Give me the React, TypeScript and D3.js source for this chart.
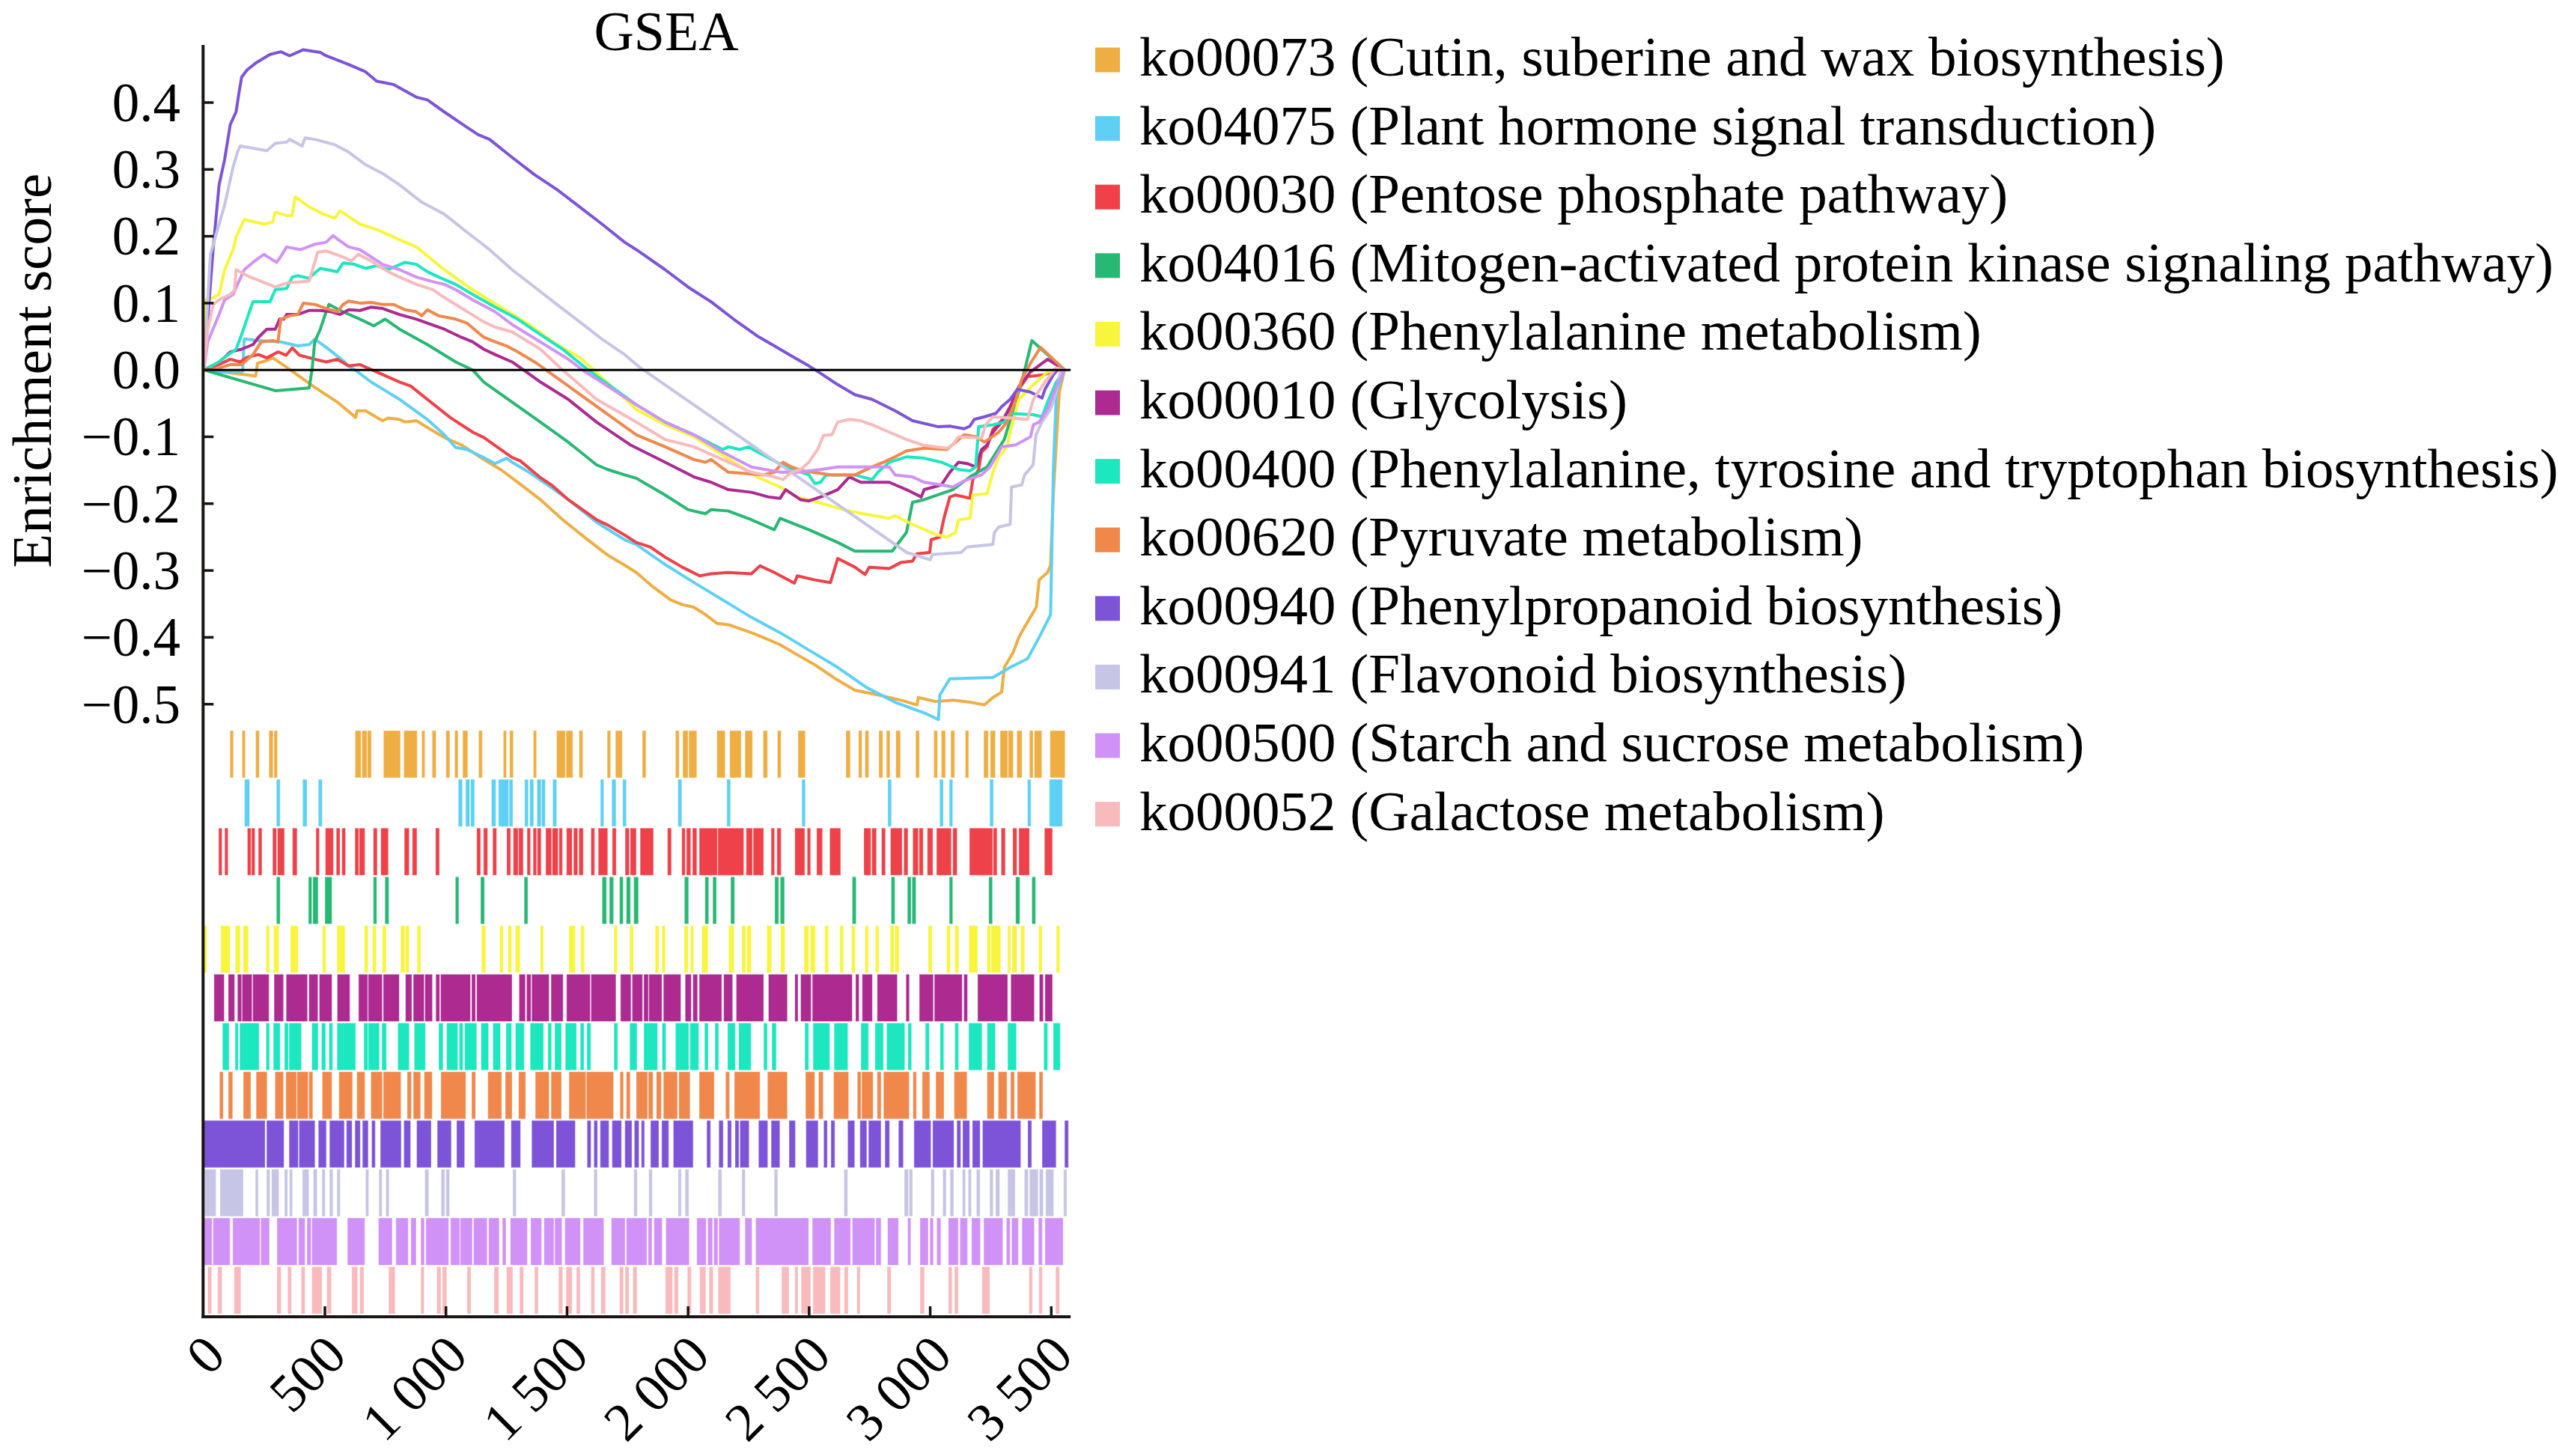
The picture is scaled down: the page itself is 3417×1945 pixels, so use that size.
import { line, scaleLinear, select } from 'd3'
import { useEffect, useRef } from 'react'

const WIDTH = 3417
const HEIGHT = 1945
const FONT = "'Liberation Serif', 'Times New Roman', serif"

const pathways = [
  'ko00073 (Cutin, suberine and wax biosynthesis)',
  'ko04075 (Plant hormone signal transduction)',
  'ko00030 (Pentose phosphate pathway)',
  'ko04016 (Mitogen-activated protein kinase signaling pathway)',
  'ko00360 (Phenylalanine metabolism)',
  'ko00010 (Glycolysis)',
  'ko00400 (Phenylalanine, tyrosine and tryptophan biosynthesis)',
  'ko00620 (Pyruvate metabolism)',
  'ko00940 (Phenylpropanoid biosynthesis)',
  'ko00941 (Flavonoid biosynthesis)',
  'ko00500 (Starch and sucrose metabolism)',
  'ko00052 (Galactose metabolism)',
]

const colors = [
  '#EFAE43', '#5DD0F4', '#EF4149', '#27B873', '#F8F53C', '#AD2A91',
  '#1CE7BF', '#F0884C', '#7D54D8', '#C6C5E5', '#D192F7', '#F8BABC',
]

// running enrichment score: [rank, score]
const es00073: [number, number][] = [
  [0, 0], [100, -0.004], [214, -0.009], [222, 0.01], [260, 0.014], [285, 0.018], [342, 0.004], [458, -0.026],
  [551, -0.048], [627, -0.071], [633, -0.061], [668, -0.061], [738, -0.076], [761, -0.072], [808, -0.074],
  [831, -0.078], [878, -0.076], [923, -0.086], [993, -0.101], [1063, -0.112], [1110, -0.123], [1156, -0.134],
  [1226, -0.149], [1296, -0.168], [1390, -0.194], [1482, -0.224], [1575, -0.251], [1668, -0.277], [1738, -0.292],
  [1786, -0.303], [1857, -0.325], [1928, -0.344], [1976, -0.351], [2024, -0.355], [2072, -0.366], [2119, -0.379],
  [2166, -0.381], [2261, -0.393], [2309, -0.4], [2380, -0.411], [2451, -0.426], [2523, -0.441], [2618, -0.464],
  [2689, -0.479], [2784, -0.486], [2879, -0.494], [2945, -0.501], [2951, -0.49], [3022, -0.496], [3093, -0.494],
  [3164, -0.497], [3224, -0.501], [3259, -0.49], [3295, -0.482], [3306, -0.445], [3342, -0.423], [3366, -0.4],
  [3389, -0.385], [3438, -0.355], [3450, -0.314], [3485, -0.303], [3497, -0.292], [3509, -0.183], [3533, -0.033],
  [3555, 0],
]
const es04075: [number, number][] = [
  [0, 0], [60, -0.003], [160, -0.002], [167, 0.046], [179, 0.046], [226, 0.044], [318, 0.042], [388, 0.036],
  [435, 0.038], [458, 0.046], [505, 0.034], [575, 0.014], [598, 0.006], [632, -0.002], [691, -0.018], [808, -0.044],
  [923, -0.074], [993, -0.097], [1040, -0.116], [1087, -0.119], [1156, -0.131], [1203, -0.14], [1250, -0.132],
  [1273, -0.138], [1343, -0.153], [1436, -0.176], [1505, -0.194], [1622, -0.228], [1738, -0.254], [1786, -0.261],
  [1905, -0.291], [2024, -0.318], [2143, -0.344], [2261, -0.37], [2380, -0.393], [2499, -0.419], [2618, -0.445],
  [2737, -0.475], [2855, -0.497], [2975, -0.513], [3034, -0.523], [3040, -0.486], [3081, -0.462], [3259, -0.46],
  [3330, -0.445], [3402, -0.432], [3450, -0.4], [3497, -0.366], [3503, -0.258], [3509, -0.145], [3521, -0.033],
  [3555, 0],
]
const es00030: [number, number][] = [
  [0, 0], [63, 0.008], [109, 0.016], [150, 0.012], [179, 0.019], [226, 0.023], [260, 0.018], [307, 0.027],
  [340, 0.022], [365, 0.033], [395, 0.022], [458, 0.016], [505, 0.012], [551, 0.016], [598, 0.006], [645, 0.008],
  [714, -0.003], [808, -0.018], [854, -0.024], [923, -0.044], [1017, -0.071], [1110, -0.093], [1156, -0.101],
  [1226, -0.119], [1273, -0.131], [1307, -0.136], [1390, -0.161], [1436, -0.172], [1505, -0.194], [1552, -0.206],
  [1622, -0.224], [1668, -0.232], [1738, -0.247], [1786, -0.258], [1845, -0.265], [1905, -0.28], [1976, -0.295],
  [2048, -0.308], [2095, -0.305], [2166, -0.303], [2261, -0.305], [2297, -0.293], [2356, -0.303], [2439, -0.319],
  [2451, -0.308], [2523, -0.314], [2588, -0.318], [2618, -0.282], [2689, -0.295], [2731, -0.306], [2748, -0.295],
  [2831, -0.297], [2879, -0.288], [2927, -0.286], [2945, -0.275], [2998, -0.273], [3004, -0.254], [3040, -0.25],
  [3058, -0.22], [3081, -0.19], [3105, -0.187], [3164, -0.192], [3176, -0.164], [3200, -0.149], [3212, -0.123],
  [3235, -0.115], [3259, -0.089], [3318, -0.067], [3366, -0.029], [3402, -0.01], [3474, -0.007], [3521, 0.002],
  [3555, 0],
]
const es04016: [number, number][] = [
  [0, 0], [295, -0.031], [435, -0.027], [447, 0.001], [458, 0.042], [481, 0.061], [505, 0.087], [517, 0.098],
  [575, 0.087], [645, 0.076], [702, 0.066], [749, 0.076], [808, 0.061], [923, 0.038], [1040, 0.012], [1110, 0],
  [1156, -0.018], [1273, -0.048], [1390, -0.078], [1505, -0.108], [1622, -0.142], [1668, -0.149], [1738, -0.157],
  [1786, -0.162], [1905, -0.187], [2000, -0.209], [2072, -0.215], [2095, -0.209], [2166, -0.211], [2261, -0.224],
  [2356, -0.239], [2380, -0.222], [2499, -0.239], [2618, -0.258], [2689, -0.271], [2843, -0.271], [2902, -0.243],
  [2927, -0.198], [2975, -0.194], [3093, -0.179], [3164, -0.16], [3235, -0.145], [3306, -0.104], [3378, -0.018],
  [3420, 0.044], [3555, 0],
]
const es00360: [number, number][] = [
  [0, 0], [8, 0.105], [39, 0.108], [63, 0.113], [86, 0.15], [121, 0.18], [133, 0.199], [167, 0.225], [249, 0.218],
  [284, 0.221], [295, 0.236], [342, 0.231], [365, 0.231], [377, 0.259], [435, 0.244], [494, 0.233], [540, 0.227],
  [563, 0.238], [645, 0.218], [714, 0.21], [808, 0.195], [878, 0.184], [993, 0.15], [1110, 0.12], [1226, 0.094],
  [1343, 0.068], [1458, 0.038], [1552, 0.019], [1598, 0.004], [1786, -0.059], [1905, -0.082], [2024, -0.1],
  [2285, -0.16], [2380, -0.175], [2451, -0.19], [2499, -0.194], [2642, -0.209], [2737, -0.216], [2831, -0.222],
  [2855, -0.218], [2927, -0.231], [3022, -0.246], [3069, -0.25], [3105, -0.243], [3117, -0.224], [3164, -0.222],
  [3176, -0.187], [3235, -0.185], [3259, -0.153], [3283, -0.13], [3318, -0.115], [3330, -0.093], [3366, -0.044],
  [3426, -0.022], [3485, -0.003], [3555, 0],
]
const es00010: [number, number][] = [
  [0, 0], [63, 0.012], [86, 0.019], [109, 0.027], [156, 0.031], [203, 0.038], [226, 0.049], [260, 0.061],
  [295, 0.061], [313, 0.076], [330, 0.076], [342, 0.083], [388, 0.083], [435, 0.089], [481, 0.089], [528, 0.087],
  [563, 0.083], [598, 0.09], [645, 0.089], [691, 0.094], [738, 0.092], [808, 0.083], [878, 0.076], [923, 0.07],
  [993, 0.061], [1063, 0.049], [1110, 0.042], [1156, 0.031], [1203, 0.023], [1273, 0.012], [1320, 0],
  [1390, -0.018], [1505, -0.044], [1622, -0.078], [1761, -0.112], [1905, -0.138], [2024, -0.16], [2095, -0.168],
  [2166, -0.179], [2261, -0.183], [2332, -0.19], [2380, -0.192], [2403, -0.179], [2464, -0.194], [2499, -0.196],
  [2547, -0.19], [2618, -0.179], [2666, -0.16], [2713, -0.168], [2772, -0.168], [2831, -0.168], [2902, -0.179],
  [2963, -0.19], [2975, -0.179], [3046, -0.172], [3081, -0.153], [3117, -0.138], [3152, -0.14], [3188, -0.145],
  [3212, -0.119], [3235, -0.112], [3259, -0.093], [3295, -0.078], [3330, -0.055], [3366, -0.025], [3414, -0.003],
  [3485, 0.016], [3555, 0],
]
const es00400: [number, number][] = [
  [0, 0], [63, 0.012], [86, 0.019], [133, 0.031], [156, 0.053], [191, 0.09], [203, 0.102], [273, 0.102],
  [295, 0.12], [342, 0.122], [365, 0.139], [388, 0.141], [435, 0.137], [458, 0.145], [481, 0.152], [551, 0.147],
  [575, 0.16], [621, 0.158], [668, 0.152], [714, 0.156], [761, 0.15], [831, 0.161], [878, 0.158], [923, 0.147],
  [970, 0.139], [1040, 0.128], [1110, 0.113], [1203, 0.094], [1296, 0.076], [1390, 0.053], [1482, 0.031],
  [1587, 0], [1786, -0.052], [1905, -0.078], [2024, -0.097], [2143, -0.119], [2166, -0.115], [2214, -0.119],
  [2249, -0.115], [2309, -0.127], [2403, -0.145], [2499, -0.157], [2523, -0.17], [2547, -0.168], [2570, -0.157],
  [2689, -0.157], [2760, -0.164], [2784, -0.153], [2831, -0.138], [2902, -0.13], [2975, -0.132], [3046, -0.138],
  [3117, -0.149], [3164, -0.151], [3188, -0.145], [3200, -0.085], [3259, -0.082], [3306, -0.078], [3330, -0.065],
  [3426, -0.067], [3462, -0.07], [3485, -0.048], [3521, -0.018], [3555, 0],
]
const es00620: [number, number][] = [
  [0, 0], [56, 0.002], [109, 0.008], [156, 0.008], [203, 0.023], [237, 0.042], [284, 0.044], [306, 0.042],
  [318, 0.076], [354, 0.081], [388, 0.083], [411, 0.1], [458, 0.098], [505, 0.092], [551, 0.087], [575, 0.098],
  [598, 0.103], [645, 0.1], [691, 0.101], [738, 0.098], [784, 0.098], [831, 0.09], [878, 0.087], [900, 0.081],
  [923, 0.09], [970, 0.081], [1040, 0.076], [1087, 0.07], [1156, 0.049], [1203, 0.042], [1250, 0.036],
  [1296, 0.027], [1366, 0.012], [1413, 0], [1786, -0.097], [1905, -0.115], [2024, -0.134], [2072, -0.138],
  [2095, -0.134], [2166, -0.153], [2309, -0.157], [2356, -0.153], [2392, -0.138], [2427, -0.145], [2474, -0.151],
  [2594, -0.157], [2689, -0.157], [2760, -0.145], [2808, -0.138], [2855, -0.13], [2902, -0.121], [2975, -0.117],
  [3069, -0.119], [3105, -0.108], [3140, -0.097], [3188, -0.1], [3224, -0.108], [3283, -0.093], [3318, -0.078],
  [3354, -0.044], [3378, -0.014], [3414, 0.01], [3456, 0.034], [3555, 0],
]
const es00940: [number, number][] = [
  [0, 0], [39, 0.184], [63, 0.277], [86, 0.315], [109, 0.367], [133, 0.386], [144, 0.412], [156, 0.438],
  [179, 0.449], [214, 0.459], [273, 0.472], [318, 0.476], [354, 0.47], [411, 0.479], [481, 0.475], [505, 0.47],
  [598, 0.457], [668, 0.446], [714, 0.432], [784, 0.427], [878, 0.408], [923, 0.404], [993, 0.386], [1087, 0.363],
  [1133, 0.352], [1180, 0.345], [1273, 0.318], [1366, 0.292], [1458, 0.27], [1552, 0.244], [1645, 0.218],
  [1738, 0.191], [1786, 0.18], [1905, 0.15], [2000, 0.124], [2095, 0.102], [2190, 0.0755], [2285, 0.051],
  [2356, 0.036], [2427, 0.021], [2499, 0.006], [2547, -0.005], [2618, -0.022], [2689, -0.037], [2760, -0.044],
  [2855, -0.061], [2927, -0.076], [3034, -0.085], [3081, -0.084], [3140, -0.088], [3164, -0.084], [3182, -0.074],
  [3224, -0.07], [3271, -0.065], [3295, -0.055], [3330, -0.044], [3360, -0.029], [3414, -0.033], [3462, -0.042],
  [3474, -0.029], [3509, -0.007], [3533, 0.003], [3555, 0],
]
const es00941: [number, number][] = [
  [0, 0], [27, 0.173], [86, 0.247], [121, 0.304], [139, 0.326], [150, 0.335], [260, 0.328], [295, 0.339],
  [342, 0.341], [354, 0.345], [406, 0.335], [418, 0.347], [458, 0.345], [540, 0.337], [598, 0.326], [668, 0.307],
  [738, 0.294], [808, 0.277], [900, 0.251], [993, 0.233], [1087, 0.206], [1180, 0.18], [1273, 0.15], [1366, 0.124],
  [1458, 0.098], [1552, 0.072], [1645, 0.046], [1738, 0.023], [1800, 0.004], [2903, -0.273], [3000, -0.284],
  [3010, -0.276], [3128, -0.273], [3152, -0.265], [3259, -0.261], [3265, -0.243], [3283, -0.235], [3330, -0.231],
  [3336, -0.175], [3378, -0.172], [3390, -0.157], [3425, -0.142], [3437, -0.097], [3461, -0.078], [3497, -0.059],
  [3520, -0.033], [3538, -0.003], [3555, 0],
]
const es00500: [number, number][] = [
  [0, 0], [16, 0.042], [63, 0.083], [86, 0.105], [121, 0.113], [144, 0.132], [167, 0.15], [203, 0.161],
  [249, 0.173], [260, 0.17], [301, 0.161], [318, 0.17], [342, 0.184], [400, 0.18], [458, 0.188], [505, 0.191],
  [534, 0.201], [551, 0.196], [598, 0.184], [645, 0.18], [691, 0.169], [738, 0.158], [808, 0.15], [878, 0.139],
  [947, 0.132], [993, 0.128], [1040, 0.12], [1110, 0.105], [1203, 0.087], [1273, 0.068], [1390, 0.042],
  [1505, 0.016], [1564, 0], [1786, -0.052], [1905, -0.078], [2024, -0.097], [2143, -0.123], [2261, -0.145],
  [2380, -0.153], [2451, -0.153], [2547, -0.149], [2618, -0.145], [2689, -0.145], [2760, -0.145], [2831, -0.145],
  [2855, -0.157], [2927, -0.16], [2975, -0.168], [3046, -0.172], [3093, -0.175], [3140, -0.166], [3212, -0.157],
  [3247, -0.145], [3295, -0.115], [3354, -0.112], [3414, -0.1], [3426, -0.082], [3450, -0.078], [3485, -0.059],
  [3521, -0.025], [3555, 0],
]
const es00052: [number, number][] = [
  [0, 0], [16, 0.061], [39, 0.098], [63, 0.105], [109, 0.113], [127, 0.12], [133, 0.15], [179, 0.141],
  [295, 0.124], [342, 0.13], [435, 0.133], [458, 0.161], [470, 0.176], [505, 0.178], [575, 0.169], [609, 0.163],
  [638, 0.173], [691, 0.163], [761, 0.147], [808, 0.139], [878, 0.128], [947, 0.12], [982, 0.111], [1040, 0.098],
  [1156, 0.072], [1203, 0.064], [1273, 0.057], [1390, 0.031], [1482, 0], [1622, -0.044], [1786, -0.078],
  [1905, -0.104], [2024, -0.115], [2143, -0.134], [2261, -0.153], [2356, -0.16], [2392, -0.164], [2427, -0.153],
  [2464, -0.149], [2499, -0.138], [2535, -0.119], [2559, -0.098], [2594, -0.097], [2618, -0.078], [2666, -0.074],
  [2713, -0.076], [2760, -0.082], [2831, -0.093], [2902, -0.104], [2975, -0.113], [3069, -0.117], [3093, -0.112],
  [3117, -0.1], [3212, -0.102], [3229, -0.082], [3259, -0.07], [3342, -0.072], [3402, -0.074], [3426, -0.044],
  [3474, -0.018], [3521, 0.003], [3555, 0],
]

// gene hits in the ranked list: [from rank, to rank]
const hits00073: [number, number][] = [
  [108, 122], [158, 171], [214, 229], [269, 286], [290, 304], [625, 649], [653, 673], [675, 692], [742, 812],
  [826, 881], [900, 913], [943, 959], [1000, 1016], [1036, 1050], [1069, 1090], [1135, 1150], [1237, 1250],
  [1263, 1278], [1361, 1374], [1457, 1493], [1496, 1524], [1550, 1565], [1666, 1680], [1700, 1728], [1811, 1826],
  [1948, 1963], [1978, 2000], [2003, 2036], [2119, 2153], [2172, 2219], [2235, 2266], [2310, 2328], [2369, 2384],
  [2454, 2484], [2652, 2670], [2704, 2718], [2731, 2746], [2788, 2804], [2819, 2834], [2858, 2877], [2940, 2955],
  [3015, 3030], [3046, 3063], [3085, 3101], [3145, 3159], [3221, 3240], [3248, 3269], [3289, 3320], [3322, 3343],
  [3358, 3379], [3410, 3425], [3430, 3461], [3495, 3557],
]
const hits04075: [number, number][] = [
  [168, 189], [300, 315], [408, 426], [473, 489], [1051, 1068], [1081, 1098], [1102, 1118], [1188, 1206],
  [1217, 1259], [1261, 1276], [1325, 1340], [1346, 1362], [1376, 1393], [1395, 1410], [1441, 1457], [1638, 1652],
  [1685, 1702], [1730, 1745], [1958, 1974], [2160, 2175], [2470, 2484], [2825, 2840], [3039, 3054], [3079, 3093],
  [3246, 3261], [3402, 3416], [3492, 3546],
]
const hits00030: [number, number][] = [
  [61, 75], [86, 100], [180, 195], [197, 211], [225, 240], [284, 300], [304, 333], [366, 385], [463, 477],
  [502, 535], [547, 562], [570, 585], [624, 640], [642, 665], [700, 716], [731, 762], [828, 848], [861, 880],
  [957, 973], [1127, 1143], [1155, 1172], [1193, 1209], [1251, 1267], [1278, 1298], [1300, 1319], [1335, 1349],
  [1360, 1374], [1377, 1393], [1412, 1436], [1439, 1463], [1467, 1481], [1498, 1521], [1527, 1544], [1549, 1567],
  [1599, 1614], [1629, 1668], [1687, 1703], [1740, 1757], [1761, 1786], [1802, 1857], [1915, 1931], [1974, 1988],
  [1993, 2011], [2018, 2036], [2046, 2121], [2123, 2230], [2240, 2266], [2269, 2312], [2343, 2357], [2367, 2384],
  [2441, 2482], [2492, 2506], [2531, 2555], [2585, 2630], [2726, 2755], [2759, 2778], [2799, 2815], [2836, 2884],
  [2891, 2908], [2928, 2951], [2954, 2971], [2988, 3011], [3026, 3087], [3093, 3111], [3162, 3258], [3260, 3276],
  [3293, 3310], [3341, 3358], [3366, 3410], [3472, 3505],
]
const hits04016: [number, number][] = [
  [300, 315], [432, 446], [450, 472], [500, 529], [700, 714], [748, 764], [1039, 1053], [1143, 1159], [1323, 1338],
  [1645, 1663], [1675, 1692], [1717, 1732], [1745, 1762], [1776, 1795], [1985, 2002], [2070, 2085], [2102, 2117],
  [2176, 2192], [2358, 2374], [2381, 2398], [2678, 2694], [2839, 2854], [2906, 2921], [2925, 2941], [3079, 3093],
  [3242, 3257], [3353, 3370], [3420, 3435],
]
const hits00360: [number, number][] = [
  [0, 12], [70, 108], [130, 150], [163, 184], [257, 271], [288, 310], [358, 389], [490, 504], [550, 583],
  [663, 678], [697, 712], [737, 753], [813, 830], [833, 848], [881, 896], [1147, 1164], [1222, 1236], [1256, 1271],
  [1287, 1306], [1390, 1403], [1508, 1534], [1557, 1572], [1694, 1708], [1759, 1774], [1864, 1879], [1892, 1906],
  [1984, 2000], [2010, 2023], [2057, 2082], [2168, 2190], [2222, 2238], [2243, 2261], [2325, 2345], [2382, 2400],
  [2479, 2498], [2505, 2525], [2565, 2580], [2627, 2642], [2675, 2690], [2731, 2745], [2774, 2788], [2835, 2850],
  [2854, 2871], [2992, 3008], [3068, 3083], [3102, 3118], [3160, 3196], [3235, 3250], [3252, 3291], [3320, 3332],
  [3338, 3358], [3374, 3390], [3448, 3462], [3521, 3535],
]
const hits00010: [number, number][] = [
  [42, 84], [101, 127], [139, 156], [158, 199], [202, 269], [290, 329], [340, 428], [434, 471], [477, 529],
  [551, 603], [639, 677], [679, 737], [741, 807], [833, 859], [865, 910], [913, 944], [958, 974], [978, 1101],
  [1106, 1122], [1127, 1273], [1302, 1328], [1333, 1351], [1354, 1426], [1434, 1484], [1498, 1596], [1599, 1702],
  [1721, 1764], [1769, 1812], [1817, 1836], [1838, 1892], [1898, 1970], [1988, 2013], [2020, 2039], [2046, 2139],
  [2147, 2184], [2199, 2312], [2332, 2410], [2441, 2454], [2465, 2508], [2513, 2678], [2692, 2706], [2719, 2761],
  [2781, 2864], [2900, 2914], [2955, 3013], [3017, 3132], [3139, 3154], [3196, 3320], [3333, 3430], [3451, 3467],
  [3474, 3505],
]
const hits00400: [number, number][] = [
  [77, 104], [129, 142], [148, 228], [257, 271], [287, 315], [333, 349], [352, 403], [446, 472], [486, 503],
  [517, 532], [550, 627], [661, 678], [679, 725], [735, 754], [801, 848], [869, 915], [970, 988], [1003, 1049],
  [1055, 1070], [1077, 1127], [1145, 1176], [1194, 1225], [1248, 1271], [1287, 1323], [1348, 1403], [1421, 1436],
  [1449, 1477], [1493, 1539], [1555, 1570], [1582, 1598], [1694, 1709], [1759, 1789], [1817, 1874], [1893, 1908],
  [1948, 2003], [2008, 2044], [2068, 2083], [2111, 2126], [2163, 2195], [2209, 2260], [2312, 2327], [2346, 2364],
  [2482, 2498], [2516, 2585], [2603, 2660], [2714, 2745], [2772, 2807], [2820, 2895], [2908, 2923], [2980, 2996],
  [3041, 3056], [3102, 3117], [3159, 3214], [3235, 3269], [3320, 3356], [3469, 3485], [3508, 3537],
]
const hits00620: [number, number][] = [
  [65, 80], [101, 119], [163, 194], [216, 261], [294, 329], [339, 383], [385, 431], [434, 450], [489, 529],
  [558, 614], [632, 665], [690, 737], [741, 814], [840, 857], [865, 895], [910, 943], [979, 1082], [1106, 1122],
  [1173, 1230], [1245, 1273], [1300, 1329], [1369, 1426], [1434, 1477], [1508, 1578], [1580, 1692], [1719, 1733],
  [1745, 1761], [1786, 1833], [1836, 1855], [1869, 1889], [1898, 1956], [1962, 2008], [2046, 2108], [2155, 2171],
  [2191, 2297], [2328, 2410], [2485, 2523], [2539, 2558], [2601, 2663], [2699, 2714], [2717, 2764], [2781, 2797],
  [2807, 2913], [2929, 2943], [2967, 2998], [3023, 3057], [3099, 3152], [3235, 3264], [3281, 3317], [3332, 3348],
  [3360, 3436], [3450, 3465],
]
const hits00940: [number, number][] = [
  [0, 253], [259, 331], [352, 390], [393, 459], [473, 506], [519, 580], [589, 612], [624, 646], [655, 679],
  [693, 708], [729, 815], [826, 854], [879, 939], [964, 1022], [1044, 1077], [1118, 1242], [1269, 1308],
  [1354, 1446], [1455, 1534], [1583, 1599], [1611, 1626], [1637, 1673], [1686, 1725], [1739, 1768], [1778, 1797],
  [1807, 1820], [1845, 1879], [1891, 1920], [1939, 2021], [2077, 2093], [2127, 2145], [2163, 2179], [2194, 2210],
  [2214, 2252], [2291, 2329], [2343, 2379], [2417, 2443], [2487, 2537], [2560, 2575], [2590, 2606], [2659, 2688],
  [2710, 2738], [2745, 2797], [2813, 2832], [2869, 2889], [2933, 3003], [3010, 3098], [3110, 3126], [3134, 3163],
  [3174, 3206], [3216, 3374], [3403, 3419], [3462, 3520], [3555, 3571],
]
const hits00941: [number, number][] = [
  [3, 50], [67, 163], [213, 225], [259, 273], [280, 310], [333, 346], [354, 366], [407, 434], [452, 468],
  [488, 501], [519, 533], [550, 563], [668, 681], [723, 736], [752, 765], [913, 929], [980, 995], [1000, 1015],
  [1276, 1290], [1477, 1492], [1611, 1625], [1776, 1790], [1838, 1852], [1959, 1972], [1988, 2003], [2124, 2139],
  [2222, 2236], [2356, 2370], [2644, 2659], [2893, 2910], [2913, 2927], [3003, 3017], [3052, 3066], [3082, 3097],
  [3133, 3145], [3157, 3170], [3191, 3206], [3246, 3260], [3270, 3287], [3320, 3351], [3389, 3405], [3410, 3446],
  [3451, 3467], [3477, 3510], [3551, 3564],
]
const hits00500: [number, number][] = [
  [0, 34], [38, 108], [119, 232], [235, 271], [302, 385], [391, 418], [426, 443], [446, 550], [593, 665],
  [721, 778], [793, 844], [855, 877], [896, 911], [917, 1011], [1019, 1057], [1059, 1109], [1114, 1170],
  [1176, 1220], [1233, 1248], [1266, 1336], [1350, 1395], [1405, 1446], [1449, 1479], [1491, 1555], [1567, 1652],
  [1683, 1740], [1745, 1830], [1835, 1851], [1859, 1893], [1908, 2005], [2036, 2075], [2081, 2101], [2106, 2123],
  [2127, 2214], [2235, 2264], [2279, 2498], [2513, 2590], [2603, 2671], [2678, 2771], [2776, 2797], [2824, 2869],
  [2907, 2920], [2958, 2992], [2999, 3013], [3027, 3044], [3075, 3116], [3123, 3154], [3171, 3207], [3221, 3300],
  [3315, 3330], [3336, 3364], [3379, 3430], [3447, 3463], [3474, 3549],
]
const hits00052: [number, number][] = [
  [16, 32], [57, 75], [125, 153], [302, 319], [346, 362], [402, 418], [446, 488], [508, 527], [611, 635],
  [644, 661], [763, 790], [896, 910], [962, 979], [985, 1003], [1087, 1103], [1199, 1218], [1250, 1276],
  [1304, 1320], [1366, 1381], [1465, 1482], [1496, 1521], [1539, 1554], [1599, 1614], [1640, 1659], [1717, 1733],
  [1740, 1756], [1772, 1789], [1906, 1936], [1943, 1960], [1997, 2013], [2048, 2073], [2087, 2103], [2124, 2176],
  [2279, 2294], [2386, 2417], [2441, 2454], [2467, 2506], [2516, 2567], [2587, 2629], [2645, 2661], [2697, 2711],
  [2822, 2838], [2958, 2976], [3075, 3090], [3100, 3116], [3214, 3246], [3408, 3422], [3449, 3463], [3518, 3534],
]

const scores = [es00073, es04075, es00030, es04016, es00360, es00010, es00400, es00620, es00940, es00941, es00500, es00052]
const hits = [
  hits00073, hits04075, hits00030, hits04016, hits00360, hits00010,
  hits00400, hits00620, hits00940, hits00941, hits00500, hits00052,
]

const xTicks = [0, 500, 1000, 1500, 2000, 2500, 3000, 3500]
const xTickLabels = ['0', '500', '1 000', '1 500', '2 000', '2 500', '3 000', '3 500']
const yTicks = [-0.5, -0.4, -0.3, -0.2, -0.1, 0, 0.1, 0.2, 0.3, 0.4]
const yTickLabels = ['−0.5', '−0.4', '−0.3', '−0.2', '−0.1', '0.0', '0.1', '0.2', '0.3', '0.4']
const rankMax = 3580

function drawChart(el: SVGSVGElement) {
  const svg = select(el)
  svg.selectAll('*').remove()

  const x = scaleLinear().domain([0, 3500]).range([272.3, 1404.3])
  const y = scaleLinear().domain([-0.5, 0.4]).range([940.7, 137])
  const axisX = x(0) - 1
  const axisY = 1759
  const rowTop = 976
  const rowStep = 65.1
  const rowHeight = 63

  // barcode rows
  hits.forEach((rows, i) => {
    svg
      .append('g')
      .selectAll('rect')
      .data(rows)
      .join('rect')
      .attr('x', (d) => x(d[0]))
      .attr('y', rowTop + i * rowStep)
      .attr('width', (d) => Math.max(x(d[1]) - x(d[0]), 3))
      .attr('height', rowHeight)
      .attr('fill', colors[i])
      .attr('stroke', 'rgba(255,255,255,0.35)')
      .attr('stroke-width', 1)
  })

  // running enrichment score lines
  const path = line<[number, number]>()
    .x((d) => x(d[0]))
    .y((d) => y(d[1]))
  scores.forEach((series, i) => {
    svg
      .append('path')
      .attr('d', path(series))
      .attr('fill', 'none')
      .attr('stroke', colors[i])
      .attr('stroke-width', 4)
      .attr('stroke-linejoin', 'round')
  })

  // zero line
  svg
    .append('line')
    .attr('x1', axisX)
    .attr('x2', x(rankMax))
    .attr('y1', y(0))
    .attr('y2', y(0))
    .attr('stroke', '#000')
    .attr('stroke-width', 3)

  // axes
  const axes = svg.append('g').attr('stroke', '#1a1414')
  axes.append('line').attr('x1', axisX).attr('x2', axisX).attr('y1', 60).attr('y2', axisY + 2).attr('stroke-width', 4)
  axes.append('line').attr('x1', axisX - 2).attr('x2', x(rankMax)).attr('y1', axisY).attr('y2', axisY).attr('stroke-width', 4)
  axes
    .selectAll('.ytick')
    .data(yTicks)
    .join('line')
    .attr('x1', axisX)
    .attr('x2', axisX + 14)
    .attr('y1', (d) => y(d))
    .attr('y2', (d) => y(d))
    .attr('stroke-width', 3.5)
  axes
    .selectAll('.xtick')
    .data(xTicks.slice(1))
    .join('line')
    .attr('x1', (d) => x(d))
    .attr('x2', (d) => x(d))
    .attr('y1', axisY)
    .attr('y2', axisY - 14)
    .attr('stroke-width', 3.5)

  const text = svg.append('g').attr('font-family', FONT).attr('fill', '#000')

  text
    .selectAll('.ylabel')
    .data(yTicks)
    .join('text')
    .attr('x', 241)
    .attr('y', (d) => y(d))
    .attr('dy', '0.34em')
    .attr('text-anchor', 'end')
    .attr('font-size', 73)
    .text((_, i) => yTickLabels[i])

  text
    .selectAll('.xlabel')
    .data(xTicks)
    .join('text')
    .attr('transform', (d) => `translate(${x(d) + 32}, ${axisY + 55}) rotate(-45)`)
    .attr('text-anchor', 'end')
    .attr('font-size', 72)
    .text((_, i) => xTickLabels[i])

  text.append('text').attr('x', 890).attr('y', 67).attr('text-anchor', 'middle').attr('font-size', 74).text('GSEA')

  text
    .append('text')
    .attr('transform', `translate(68, ${y(0) + 1}) rotate(-90)`)
    .attr('text-anchor', 'middle')
    .attr('font-size', 75)
    .text('Enrichment score')

  // legend
  const legend = svg.append('g')
  pathways.forEach((name, i) => {
    const cy = 80 + i * 91.6
    legend.append('rect').attr('x', 1463).attr('y', cy - 16.5).attr('width', 33).attr('height', 33).attr('fill', colors[i])
    legend
      .append('text')
      .attr('x', 1522)
      .attr('y', cy + 21)
      .attr('font-family', FONT)
      .attr('font-size', 75)
      .attr('fill', '#000')
      .text(name)
  })
}

export default function App() {
  const ref = useRef<SVGSVGElement>(null)

  useEffect(() => {
    if (ref.current) drawChart(ref.current)
  }, [])

  return (
    <svg
      ref={ref}
      width={WIDTH}
      height={HEIGHT}
      viewBox={`0 0 ${WIDTH} ${HEIGHT}`}
      style={{ position: 'absolute', left: 0, top: 0, background: '#fff' }}
    />
  )
}
